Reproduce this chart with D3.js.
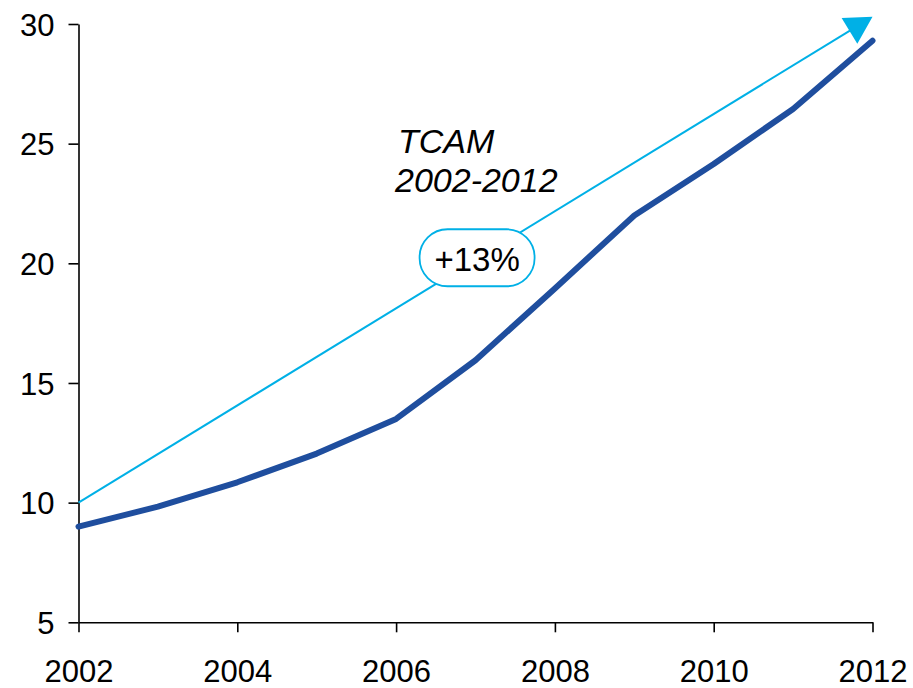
<!DOCTYPE html>
<html>
<head>
<meta charset="utf-8">
<script src="https://cdn.jsdelivr.net/npm/d3@7"></script>
<style>
  body { margin: 0; background: #fff; }
  svg { display: block; }
  text { font-family: "Liberation Sans", Arial, sans-serif; }
</style>
</head>
<body>
<svg id="chart" width="913" height="688"></svg>
<script>
const years = [2002, 2003, 2004, 2005, 2006, 2007, 2008, 2009, 2010, 2011, 2012];
const values = [9.0, 9.83, 10.85, 12.05, 13.5, 15.95, 18.95, 22.0, 24.15, 26.45, 29.3];
const trendYears = [2002, 2012];
const trendValues = [10.0, 30.3];
const xTicks = [2002, 2004, 2006, 2008, 2010, 2012];
const yTicks = [5, 10, 15, 20, 25, 30];
const annotationTitle = ["TCAM", "2002-2012"];
const annotationLabel = "+13%";

const svg = d3.select("#chart");
const x = d3.scaleLinear().domain([2002, 2012]).range([78.5, 872.5]);
const y = d3.scaleLinear().domain([5, 30]).range([622.3, 24]);

// Axes
const yAxis = svg.append("g").attr("transform", `translate(${x(2002)},0)`)
  .call(d3.axisLeft(y).tickValues(yTicks).tickSize(10).tickSizeOuter(0).tickPadding(14));
const xAxis = svg.append("g").attr("transform", `translate(0,${y(5)})`)
  .call(d3.axisBottom(x).tickValues(xTicks).tickFormat(d3.format("d")).tickSize(10).tickSizeOuter(0).tickPadding(28));
[yAxis, xAxis].forEach(g => {
  g.selectAll("path.domain").attr("stroke", "#000").attr("stroke-width", 1.6);
  g.selectAll(".tick line").attr("stroke", "#000").attr("stroke-width", 1.6);
  g.selectAll(".tick text").attr("fill", "#000").style("font-size", "31px")
    .style("font-family", '"Liberation Sans", Arial, sans-serif');
});
yAxis.selectAll(".tick text").attr("dy", "0.36em");
xAxis.selectAll(".tick text").attr("dy", "0.71em");

// Trend line with arrow
const tx0 = x(trendYears[0]), ty0 = y(trendValues[0]);
const tx1 = x(trendYears[1]), ty1 = y(trendValues[1]);
const ang = Math.atan2(ty1 - ty0, tx1 - tx0);
const headLen = 27, headHalf = 15;
const bx = tx1 - headLen * Math.cos(ang), by = ty1 - headLen * Math.sin(ang);
svg.append("line")
  .attr("x1", tx0).attr("y1", ty0).attr("x2", bx + 2 * Math.cos(ang)).attr("y2", by + 2 * Math.sin(ang))
  .attr("stroke", "#00b0e6").attr("stroke-width", 2);
const px = -Math.sin(ang), py = Math.cos(ang);
svg.append("polygon")
  .attr("points", [[tx1, ty1], [bx + headHalf * px, by + headHalf * py], [bx - headHalf * px, by - headHalf * py]].map(p => p.join(",")).join(" "))
  .attr("fill", "#00b0e6");

// Data line
const line = d3.line().x((d, i) => x(years[i])).y(d => y(d));
svg.append("path").datum(values)
  .attr("d", line)
  .attr("fill", "none")
  .attr("stroke", "#1f4e9e")
  .attr("stroke-width", 6)
  .attr("stroke-linejoin", "round")
  .attr("stroke-linecap", "round");

// Annotation text
svg.append("text").attr("x", 398).attr("y", 153)
  .style("font-size", "34px").style("font-style", "italic").attr("fill", "#000")
  .text(annotationTitle[0]);
svg.append("text").attr("x", 395).attr("y", 192)
  .style("font-size", "34px").style("font-style", "italic").attr("fill", "#000")
  .text(annotationTitle[1]);

// Pill label on trend line
const lx = x(2007.02);
const ly = ty0 + (lx - tx0) * (ty1 - ty0) / (tx1 - tx0);
const pw = 115, ph = 57;
svg.append("rect")
  .attr("x", lx - pw / 2).attr("y", ly - ph / 2 - 1)
  .attr("width", pw).attr("height", ph)
  .attr("rx", 28).attr("ry", 28)
  .attr("fill", "#fff").attr("stroke", "#00b0e6").attr("stroke-width", 1.8);
svg.append("text").attr("x", lx).attr("y", ly + 12)
  .attr("text-anchor", "middle")
  .style("font-size", "33px").attr("fill", "#000")
  .text(annotationLabel);
</script>
</body>
</html>
